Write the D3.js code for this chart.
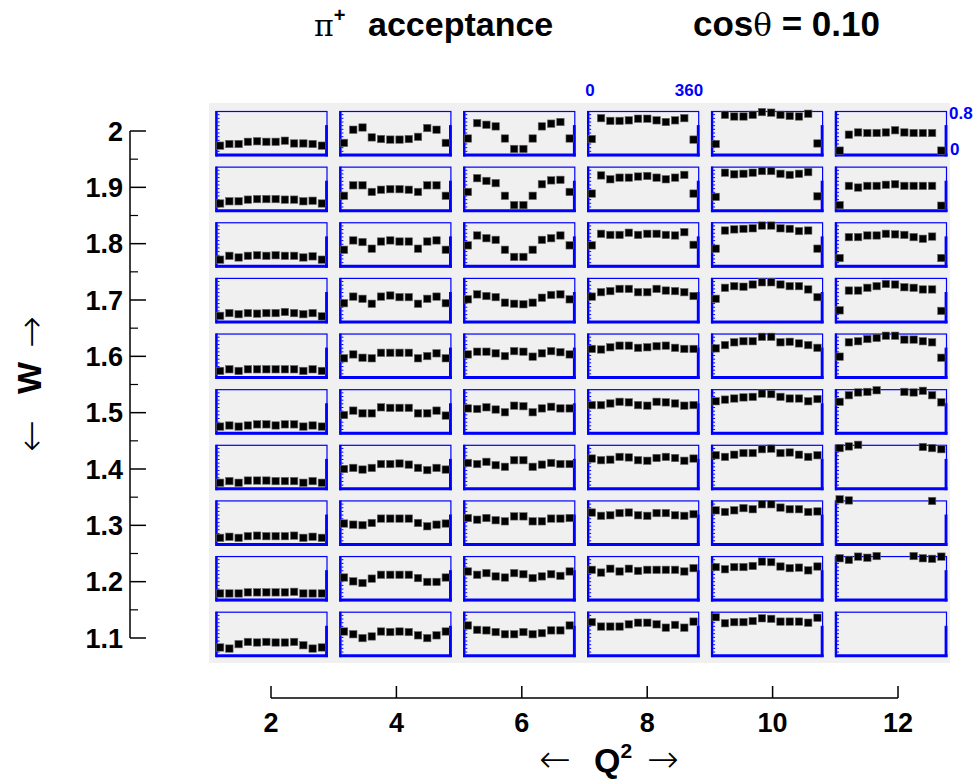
<!DOCTYPE html>
<html>
<head>
<meta charset="utf-8">
<script src="https://cdn.jsdelivr.net/npm/d3@7"></script>
<style>
  html, body { margin: 0; padding: 0; background: #ffffff; }
  svg { display: block; font-family: "Liberation Sans", Arial, sans-serif; }
</style>
</head>
<body>
<svg id="chart" width="980" height="781"></svg>
<script>
// ---------------- data ----------------
const q2Values = [2, 4, 6, 8, 10, 12];                        // Q^2 columns
const wValues = [2.0, 1.9, 1.8, 1.7, 1.6, 1.5, 1.4, 1.3, 1.2, 1.1]; // W rows
const phiCenters = [15, 45, 75, 105, 135, 165, 195, 225, 255, 285, 315, 345];
const wTicks = [1.1, 1.2, 1.3, 1.4, 1.5, 1.6, 1.7, 1.8, 1.9, 2.0];
const wMinorTicks = [1.15, 1.25, 1.35, 1.45, 1.55, 1.65, 1.75, 1.85, 1.95];
const q2Ticks = [2, 4, 6, 8, 10, 12];
const phiRange = [0, 360];
const accRange = [0, 0.8];

// acceptance vs phi, one array per W row, six Q^2 columns each (null = empty bin)
const accW20 = [
  [0.17,0.20,0.20,0.24,0.25,0.24,0.24,0.26,0.21,0.21,0.20,0.17],
  [0.22,0.46,0.50,0.32,0.29,0.28,0.28,0.29,0.33,0.49,0.46,0.22],
  [0.30,0.58,0.55,0.52,0.30,0.11,0.11,0.30,0.52,0.57,0.60,0.30],
  [0.29,0.67,0.62,0.62,0.63,0.66,0.66,0.63,0.60,0.63,0.67,0.28],
  [0.20,0.73,0.70,0.70,0.73,0.78,0.77,0.73,0.71,0.70,0.75,0.21],
  [0.08,0.37,0.41,0.40,0.40,0.41,0.45,0.41,0.40,0.40,0.40,0.08]
];
const accW19 = [
  [0.13,0.17,0.17,0.20,0.21,0.21,0.21,0.20,0.20,0.17,0.18,0.13],
  [0.27,0.46,0.46,0.34,0.38,0.39,0.39,0.38,0.34,0.46,0.46,0.27],
  [0.34,0.59,0.54,0.50,0.27,0.10,0.10,0.27,0.48,0.55,0.56,0.34],
  [0.31,0.64,0.57,0.60,0.60,0.62,0.63,0.60,0.57,0.60,0.65,0.31],
  [0.25,0.69,0.66,0.67,0.69,0.72,0.72,0.67,0.65,0.67,0.70,0.26],
  [0.10,0.45,0.42,0.45,0.45,0.47,0.48,0.45,0.45,0.45,0.45,0.09]
];
const accW18 = [
  [0.12,0.19,0.16,0.19,0.20,0.19,0.20,0.19,0.19,0.16,0.18,0.12],
  [0.30,0.47,0.44,0.32,0.45,0.47,0.45,0.45,0.32,0.45,0.47,0.30],
  [0.38,0.56,0.51,0.48,0.30,0.17,0.17,0.30,0.48,0.51,0.56,0.38],
  [0.38,0.59,0.57,0.57,0.61,0.57,0.59,0.59,0.57,0.56,0.62,0.39],
  [0.32,0.65,0.67,0.68,0.69,0.74,0.74,0.69,0.68,0.64,0.65,0.32],
  [0.15,0.53,0.53,0.56,0.56,0.59,0.58,0.57,0.53,0.50,0.54,0.15]
];
const accW17 = [
  [0.11,0.16,0.14,0.16,0.15,0.16,0.16,0.18,0.16,0.14,0.16,0.10],
  [0.34,0.46,0.42,0.33,0.46,0.48,0.45,0.45,0.33,0.42,0.46,0.34],
  [0.41,0.50,0.47,0.45,0.35,0.33,0.32,0.35,0.44,0.49,0.50,0.41],
  [0.46,0.54,0.56,0.60,0.60,0.54,0.54,0.60,0.57,0.56,0.54,0.47],
  [0.42,0.62,0.65,0.64,0.68,0.72,0.72,0.68,0.65,0.65,0.59,0.45],
  [0.21,0.57,0.57,0.62,0.65,0.69,0.68,0.63,0.62,0.59,0.59,0.20]
];
const accW16 = [
  [0.12,0.15,0.12,0.15,0.15,0.15,0.15,0.15,0.15,0.12,0.15,0.12],
  [0.35,0.42,0.36,0.35,0.45,0.45,0.45,0.45,0.35,0.39,0.44,0.35],
  [0.42,0.47,0.47,0.44,0.39,0.48,0.47,0.38,0.44,0.48,0.46,0.42],
  [0.52,0.51,0.55,0.58,0.58,0.54,0.55,0.57,0.58,0.54,0.52,0.52],
  [0.53,0.59,0.64,0.66,0.66,0.74,0.74,0.64,0.65,0.62,0.59,0.54],
  [0.38,0.64,0.66,0.70,0.72,0.76,0.76,0.69,0.69,0.66,0.64,0.36]
];
const accW15 = [
  [0.12,0.14,0.12,0.14,0.16,0.16,0.14,0.16,0.16,0.12,0.14,0.12],
  [0.33,0.41,0.36,0.36,0.47,0.46,0.46,0.46,0.36,0.36,0.41,0.32],
  [0.45,0.44,0.47,0.43,0.38,0.50,0.49,0.38,0.45,0.48,0.45,0.45],
  [0.51,0.51,0.54,0.57,0.56,0.51,0.50,0.57,0.56,0.54,0.50,0.51],
  [0.58,0.61,0.63,0.65,0.66,0.72,0.71,0.66,0.63,0.63,0.58,0.62],
  [0.57,0.69,0.74,0.75,0.78,null,null,0.75,0.74,0.77,0.69,0.56]
];
const accW14 = [
  [0.11,0.14,0.11,0.15,0.15,0.15,0.14,0.14,0.14,0.11,0.14,0.11],
  [0.36,0.38,0.35,0.38,0.45,0.45,0.46,0.44,0.38,0.34,0.38,0.35],
  [0.47,0.45,0.49,0.43,0.40,0.52,0.52,0.40,0.44,0.47,0.45,0.45],
  [0.55,0.52,0.53,0.58,0.57,0.52,0.51,0.56,0.58,0.56,0.51,0.55],
  [0.61,0.58,0.62,0.65,0.65,0.72,0.73,0.65,0.66,0.62,0.58,0.61],
  [0.74,0.77,0.80,null,null,null,null,null,null,0.76,0.74,0.72]
];
const accW13 = [
  [0.12,0.14,0.12,0.15,0.16,0.15,0.15,0.15,0.16,0.12,0.14,0.12],
  [0.38,0.36,0.35,0.39,0.47,0.47,0.47,0.47,0.39,0.33,0.36,0.38],
  [0.48,0.45,0.48,0.44,0.42,0.51,0.51,0.42,0.42,0.47,0.47,0.48],
  [0.58,0.52,0.53,0.57,0.58,0.53,0.52,0.57,0.57,0.53,0.52,0.55],
  [0.62,0.59,0.62,0.66,0.64,0.73,0.73,0.67,0.64,0.64,0.59,0.60],
  [0.82,0.80,null,null,null,null,null,null,null,null,0.79,null]
];
const accW12 = [
  [0.12,0.12,0.12,0.14,0.14,0.14,0.14,0.14,0.15,0.12,0.12,0.12],
  [0.41,0.34,0.31,0.39,0.46,0.46,0.46,0.46,0.40,0.33,0.33,0.41],
  [0.52,0.46,0.49,0.43,0.41,0.49,0.47,0.40,0.43,0.47,0.44,0.52],
  [0.55,0.50,0.57,0.52,0.57,0.53,0.55,0.55,0.55,0.55,0.52,0.58],
  [0.60,0.56,0.60,0.60,0.62,0.70,0.69,0.61,0.58,0.59,0.54,0.61],
  [0.76,0.73,0.79,0.77,0.80,null,null,null,0.80,0.76,0.75,0.79]
];
const accW11 = [
  [0.15,0.13,0.21,0.25,0.24,0.25,0.24,0.24,0.25,0.19,0.13,0.15],
  [0.44,0.39,0.32,0.35,0.44,0.43,0.44,0.43,0.37,0.32,0.37,0.44],
  [0.55,0.47,0.46,0.43,0.39,0.39,0.43,0.39,0.41,0.46,0.46,0.55],
  [0.61,0.53,0.53,0.53,0.57,0.60,0.60,0.57,0.51,0.56,0.51,0.62],
  [0.70,0.59,0.61,0.61,0.63,0.68,0.67,0.62,0.62,0.62,0.60,0.69],
  [null,null,null,null,null,null,null,null,null,null,null,null]
];
const accRows = [accW20, accW19, accW18, accW17, accW16, accW15, accW14, accW13, accW12, accW11];

// ---------------- layout ----------------
const svg = d3.select("#chart");
const BLUE = "#0000ff";
const panelW = 111, panelH = 44;

// outer axes
const xQ = d3.scaleLinear().domain([2, 12]).range([271, 898]);
const yW = d3.scaleLinear().domain([1.1, 2.0]).range([638, 131]);
// panel placement
const colX = d3.scalePoint().domain(q2Values).range([271, 890.5]);
const rowY = d3.scalePoint().domain(wValues).range([133, 633.7]);

// gray pad
svg.append("rect").attr("x", 209).attr("y", 103).attr("width", 741).attr("height", 560)
  .attr("fill", "#f0f0f0");

// panels
const phiX = d3.scaleLinear().domain(phiRange).range([0, panelW]);
const accY = d3.scaleLinear().domain(accRange).range([panelH, 0]);
const innerTicks = d3.range(0, 13).map(i => i * accRange[1] / 12);

wValues.forEach((w, ri) => {
  q2Values.forEach((q, ci) => {
    const g = svg.append("g")
      .attr("transform", `translate(${colX(q) - panelW / 2},${rowY(w) - panelH / 2})`);
    g.append("rect").attr("x", 0.5).attr("y", 0.5).attr("width", panelW).attr("height", panelH)
      .attr("fill", "none").attr("stroke", BLUE).attr("stroke-width", 1.2);
    g.append("line").attr("x1", 1).attr("x2", 1).attr("y1", 0).attr("y2", panelH + 1.5)
      .attr("stroke", BLUE).attr("stroke-width", 2.4);
    g.append("line").attr("x1", 0).attr("x2", panelW + 1.5).attr("y1", panelH).attr("y2", panelH)
      .attr("stroke", BLUE).attr("stroke-width", 3);
    g.append("line").attr("x1", panelW).attr("x2", panelW).attr("y1", panelH * 0.32).attr("y2", panelH + 1.4)
      .attr("stroke", BLUE).attr("stroke-width", 2.8);
    g.selectAll("line.tk").data(innerTicks.slice(1, 12)).enter().append("line")
      .attr("class", "tk")
      .attr("x1", 2).attr("x2", 4)
      .attr("y1", d => accY(d)).attr("y2", d => accY(d))
      .attr("stroke", BLUE).attr("stroke-width", 1);
    const vals = accRows[ri][ci];
    const pts = phiCenters.map((p, i) => ({ p, v: vals[i] })).filter(d => d.v !== null);
    g.selectAll("rect.pt").data(pts).enter().append("rect")
      .attr("class", "pt")
      .attr("x", d => phiX(d.p) - 3.7).attr("y", d => accY(d.v) - 3.7)
      .attr("width", 7.4).attr("height", 7.4)
      .attr("fill", "#000").attr("stroke", "#666").attr("stroke-width", 0.6);
  });
});

// blue range labels on corner panels
const lblStyle = s => s.attr("fill", BLUE).attr("font-weight", "bold").attr("font-size", 17);
lblStyle(svg.append("text").attr("x", 590).attr("y", 96).attr("text-anchor", "middle")).text(phiRange[0]);
lblStyle(svg.append("text").attr("x", 689).attr("y", 96).attr("text-anchor", "middle")).text(phiRange[1]);
lblStyle(svg.append("text").attr("x", 949).attr("y", 119).attr("text-anchor", "start")).text(accRange[1]);
lblStyle(svg.append("text").attr("x", 950).attr("y", 155).attr("text-anchor", "start")).text(accRange[0]);

// W axis
const yAxisG = svg.append("g");
yAxisG.append("line").attr("x1", 130).attr("x2", 130).attr("y1", yW(2.0)).attr("y2", yW(1.1))
  .attr("stroke", "#000").attr("stroke-width", 1.5);
yAxisG.selectAll("line.maj").data(wTicks).enter().append("line")
  .attr("x1", 130).attr("x2", 146).attr("y1", d => yW(d)).attr("y2", d => yW(d))
  .attr("stroke", "#000").attr("stroke-width", 1.5);
yAxisG.selectAll("line.min").data(wMinorTicks).enter().append("line")
  .attr("x1", 130).attr("x2", 138).attr("y1", d => yW(d)).attr("y2", d => yW(d))
  .attr("stroke", "#000").attr("stroke-width", 1.2);
yAxisG.selectAll("text").data(wTicks).enter().append("text")
  .attr("x", 123).attr("y", d => yW(d) + 9.7).attr("text-anchor", "end")
  .attr("font-weight", "bold").attr("font-size", 27)
  .text(d => d === 2 ? "2" : d3.format(".1f")(d));

// Q2 axis
const xAxisG = svg.append("g");
xAxisG.append("line").attr("x1", xQ(2)).attr("x2", xQ(12)).attr("y1", 698).attr("y2", 698)
  .attr("stroke", "#000").attr("stroke-width", 1.5);
xAxisG.selectAll("line.maj").data(q2Ticks).enter().append("line")
  .attr("x1", d => xQ(d)).attr("x2", d => xQ(d)).attr("y1", 698).attr("y2", 686)
  .attr("stroke", "#000").attr("stroke-width", 1.5);
xAxisG.selectAll("text").data(q2Ticks).enter().append("text")
  .attr("x", d => xQ(d)).attr("y", 732).attr("text-anchor", "middle")
  .attr("font-weight", "bold").attr("font-size", 27).text(d => d);

// axis titles
const arrowFont = "'DejaVu Sans', sans-serif";
const arrowSize = 38;
const arrowText = s => s.attr("text-anchor", "middle").attr("font-family", arrowFont)
  .attr("font-weight", 200).attr("font-size", arrowSize);
arrowText(svg.append("text").attr("x", 555).attr("y", 772)).text("\u2190");
const qt = svg.append("text").attr("x", 594).attr("y", 772).attr("font-size", 34).attr("font-weight", "bold");
qt.append("tspan").text("Q");
qt.append("tspan").attr("font-size", 21).attr("dy", -14).text("2");
arrowText(svg.append("text").attr("x", 663).attr("y", 772)).text("\u2192");

arrowText(svg.append("text").attr("transform", "translate(44,332) rotate(-90)")).text("\u2192");
svg.append("text").attr("transform", "translate(41,378) rotate(-90)").attr("text-anchor", "middle")
  .attr("font-size", 34).attr("font-weight", "bold").text("W");
arrowText(svg.append("text").attr("transform", "translate(44,436) rotate(-90)")).text("\u2190");

// title
const t1 = svg.append("text").attr("x", 314).attr("y", 36).attr("font-size", 34).attr("font-weight", "bold");
t1.append("tspan").attr("font-weight", "normal").attr("font-family", "'DejaVu Serif', serif").attr("font-size", 30).text("\u03c0");
t1.append("tspan").attr("font-size", 20).attr("dy", -14).text("+");
t1.append("tspan").attr("dy", 14).attr("x", 368).text("acceptance");
const t2 = svg.append("text").attr("x", 693).attr("y", 36).attr("font-size", 35).attr("font-weight", "bold");
t2.append("tspan").text("cos");
t2.append("tspan").attr("font-weight", "normal").attr("font-family", "'DejaVu Serif', serif").attr("font-size", 31).text("\u03b8");
t2.append("tspan").text(" = 0.10");
</script>
</body>
</html>
